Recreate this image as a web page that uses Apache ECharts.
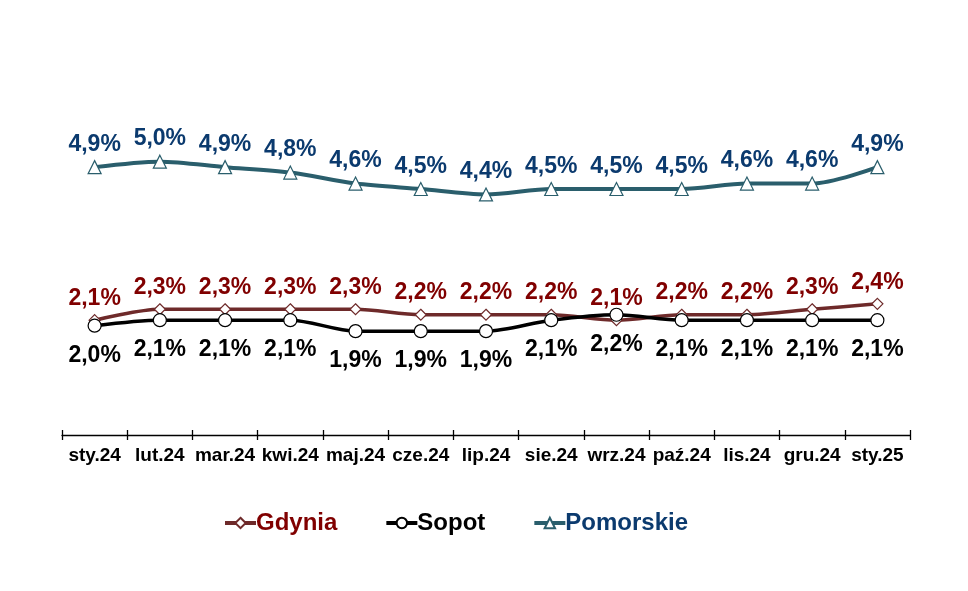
<!DOCTYPE html>
<html><head><meta charset="utf-8">
<script src="https://cdn.jsdelivr.net/npm/echarts@6/dist/echarts.min.js"></script>
<style>html,body{margin:0;padding:0;background:#fff}#c{width:968px;height:591px}</style>
</head><body><div id="c"></div>
<script>
const categories = ['sty.24','lut.24','mar.24','kwi.24','maj.24','cze.24','lip.24','sie.24','wrz.24','paź.24','lis.24','gru.24','sty.25'];
const gdynia = [2.1,2.3,2.3,2.3,2.3,2.2,2.2,2.2,2.1,2.2,2.2,2.3,2.4];
const sopot = [2.0,2.1,2.1,2.1,1.9,1.9,1.9,2.1,2.2,2.1,2.1,2.1,2.1];
const pomorskie = [4.9,5.0,4.9,4.8,4.6,4.5,4.4,4.5,4.5,4.5,4.6,4.6,4.9];

const FONT = '"Liberation Sans", Arial, sans-serif';
const fmt = p => p.value.toFixed(1).replace('.', ',') + '%';

function mk(name, data, lineColor, labelColor, symbol, size, pos, dist, width) {
  return {
    name, type: 'line', data, smooth: 0.3,
    symbol, symbolSize: size,
    lineStyle: { color: lineColor, width },
    itemStyle: { color: '#fff', borderColor: lineColor, borderWidth: 1.2 },
    label: { show: true, position: pos, distance: dist, formatter: fmt,
      color: labelColor, fontFamily: FONT, fontWeight: 'bold', fontSize: 23 },
    emphasis: { disabled: true }, z: 3
  };
}

const chart = echarts.init(document.getElementById('c'), null, { renderer: 'canvas' });
chart.setOption({
  animation: false,
  backgroundColor: '#fff',
  grid: { left: 62, right: 58, top: 107, bottom: 156 },
  xAxis: [{
    type: 'category', data: categories, boundaryGap: true,
    axisLine: { lineStyle: { color: '#000', width: 1.3 } },
    axisTick: { show: true, length: 5, interval: 0, lineStyle: { color: '#000', width: 1.3 } },
    axisLabel: { color: '#000', fontFamily: FONT, fontWeight: 'bold', fontSize: 19, margin: 11, interval: 0 }
  }, {
    type: 'category', data: categories, boundaryGap: true, position: 'bottom',
    axisLine: { show: false },
    axisTick: { show: true, inside: true, length: 5, interval: 0, lineStyle: { color: '#000', width: 1.3 } },
    axisLabel: { show: false }
  }],
  yAxis: { type: 'value', min: 0, max: 6, show: false, splitLine: { show: false } },
  legend: {
    top: 506, left: 218, itemGap: 47, itemWidth: 31, itemHeight: 13,
    textStyle: { fontFamily: FONT, fontWeight: 'bold', fontSize: 24, padding: [0, 0, 0, -5] },
    data: [
      { name: 'Gdynia', textStyle: { color: '#800000' }, lineStyle: { width: 4 } },
      { name: 'Sopot', textStyle: { color: '#000' }, lineStyle: { width: 4 } },
      { name: 'Pomorskie', textStyle: { color: '#0B3A6E' }, lineStyle: { width: 4 } }
    ]
  },
  series: [
    mk('Gdynia', gdynia, '#6E2A2A', '#800000', 'diamond', 11, 'top', 4, 3.5),
    mk('Sopot', sopot, '#000000', '#000000', 'circle', 13, 'bottom', 11, 3.5),
    mk('Pomorskie', pomorskie, '#2A5E6C', '#0B3A6E', 'triangle', 13, 'top', 4, 4)
  ]
});
</script></body></html>
